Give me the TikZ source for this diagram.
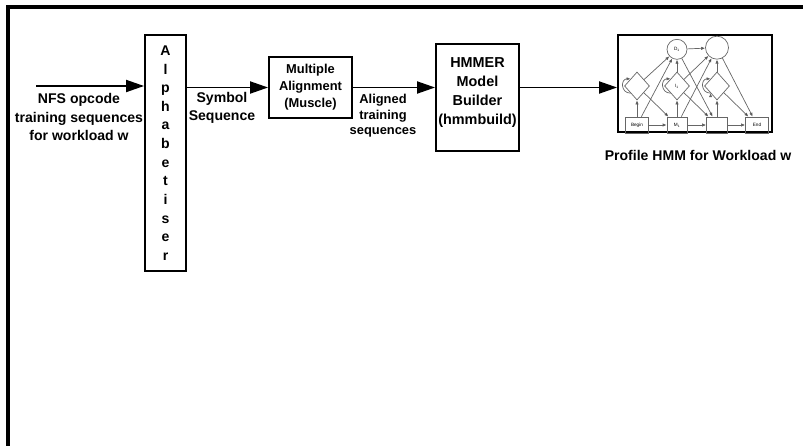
\documentclass[tikz,border=0pt]{standalone}
\usepackage{fontspec}
\setmainfont{Liberation Sans}
\usetikzlibrary{arrows.meta,shapes.geometric,positioning}

\begin{document}
\begin{tikzpicture}[x=0.03cm,y=-0.03cm,thick,
                    main node/.style={rectangle,draw,line width=1.6pt,align=center,inner sep=1pt,
                                      font=\bfseries\fontsize{11}{14.5}\selectfont},
                    flow/.style={-{Triangle[length=0.54cm,width=0.36cm]},line width=1.6pt},
                    lbl/.style={align=center,font=\bfseries\fontsize{12}{15.8}\selectfont},
                    hmm/.style={draw=black!60,line width=0.6pt,inner sep=0pt,
                                font=\fontsize{4}{5}\selectfont},
                    hmm edge/.style={draw=black!60,line width=0.6pt,-{Latex[length=1.2mm,width=1mm]}}]
  \useasboundingbox (0,0) rectangle (803,446);
  \clip (0,0) rectangle (803,446);
  \draw[line width=2.6pt] (8,470) -- (8,7) -- (830,7);

  %pipeline%
  \node[main node,minimum width=1.23cm,minimum height=7.08cm,
        font=\bfseries\fontsize{12}{15.9}\selectfont] (1) at (165.5,153)
        {A\\l\\p\\h\\a\\b\\e\\t\\i\\s\\e\\r};
  \node[main node,minimum width=2.49cm,minimum height=1.83cm] (2) at (310.5,87.5)
        {Multiple\\Alignment\\(Muscle)};
  \node[main node,minimum width=2.49cm,minimum height=3.21cm,text depth=11pt,
        font=\bfseries\fontsize{12.3}{16.2}\selectfont] (3) at (477.5,97.5)
        {HMMER\\Model\\Builder\\(hmmbuild)};
  \node[draw,line width=1.6pt,minimum width=4.62cm,minimum height=2.91cm] (4) at (695,83.5) {};
  \node[lbl] (5) at (698,155) {Profile HMM for Workload w};

  \coordinate (in) at (36,86);
  \node[lbl] (6) at (79,117) {NFS opcode\\training sequences\\for workload w};
  \node[lbl,font=\bfseries\fontsize{12}{15.3}\selectfont] (7) at (222,108) {Symbol\\Sequence};
  \node[lbl,font=\bfseries\fontsize{11}{13.2}\selectfont] (8) at (383,116) {Aligned\\training\\sequences};

  \draw[flow] (in) -- (1.west |- in);
  \draw[flow] (1.east |- 2) -- (2.west);
  \draw[flow] (2.east) -- (2 -| 3.west);
  \draw[flow] (3.east |- 2) -- (4.west |- 2);

  %profile HMM%
  \begin{scope}[node distance=1.2cm]
    \node[hmm,minimum width=0.69cm,minimum height=0.48cm] (b) at (637,125) {Begin};
    \node[hmm,minimum width=0.6cm,minimum height=0.48cm] (m1) [right of=b] {M\textsubscript{1}};
    \node[hmm,minimum width=0.63cm,minimum height=0.48cm] (m2) [right of=m1] {};
    \node[hmm,minimum width=0.69cm,minimum height=0.48cm] (e) [right of=m2] {End};
    \node[hmm,diamond,minimum width=0.75cm,minimum height=0.84cm] (i0) [above of=b,node distance=1.17cm] {};
    \node[hmm,diamond,minimum width=0.75cm,minimum height=0.84cm] (i1) [above of=m1,node distance=1.17cm] {I\textsubscript{1}};
    \node[hmm,diamond,minimum width=0.75cm,minimum height=0.84cm] (i2) [above of=m2,node distance=1.17cm] {};
    \node[hmm,circle,minimum size=0.6cm] (d1) [above of=i1,node distance=1.1cm] {D\textsubscript{1}};
    \node[hmm,circle,minimum size=0.69cm] (d2) [above of=i2,node distance=1.15cm] {};
  \end{scope}

  \path[hmm edge]
    (b) edge (m1)
        edge (i0)
        edge (d1)
    (i0) edge (m1)
         edge (d1)
    (i0.south west) edge[out=180,in=180,looseness=1.8] (i0.north west)
    (m1) edge (m2)
         edge (i1)
         edge (d2)
    (i1) edge (m2)
         edge (d1)
         edge (d2)
    (i1.south west) edge[out=180,in=180,looseness=1.8] (i1.north west)
    (d1) edge (d2)
         edge (m2)
    (m2) edge (e)
         edge (i2)
    (i2) edge (e)
         edge (d2)
    (i2.south west) edge[out=180,in=180,looseness=1.8] (i2.north west)
    (d2) edge (e);
\end{tikzpicture}
\end{document}
